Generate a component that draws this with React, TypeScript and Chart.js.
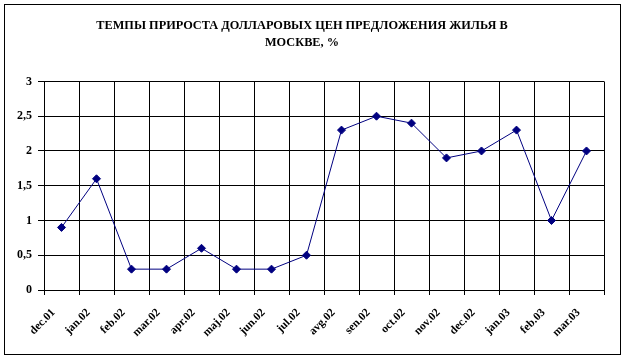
import React, { useEffect, useRef } from "react";
import { Chart, registerables } from "chart.js";

Chart.register(...registerables);

const titleLines = ["ТЕМПЫ ПРИРОСТА ДОЛЛАРОВЫХ ЦЕН ПРЕДЛОЖЕНИЯ ЖИЛЬЯ В", "МОСКВЕ, %"];
const categories = ["dec.01", "jan.02", "feb.02", "mar.02", "apr.02", "maj.02", "jun.02", "jul.02", "avg.02", "sen.02", "oct.02", "nov.02", "dec.02", "jan.03", "feb.03", "mar.03"];
const growth = [0.9, 1.6, 0.3, 0.3, 0.6, 0.3, 0.3, 0.5, 2.3, 2.5, 2.4, 1.9, 2.0, 2.3, 1.0, 2.0];
const yMin = 0;
const yMax = 3;
const yStep = 0.5;

const FONT = "'Liberation Serif', 'Times New Roman', serif";

export default function App() {
  const ref = useRef<HTMLCanvasElement | null>(null);
  useEffect(() => {
    if (!ref.current) return;
    const chart = new Chart(ref.current, {
      type: "line",
      data: {
        labels: categories,
        datasets: [
          {
            data: growth,
            borderColor: "#000080",
            backgroundColor: "#000080",
            borderWidth: 1,
            pointStyle: "rectRot",
            pointRadius: 4,
            pointBorderWidth: 1,
            tension: 0,
          },
        ],
      },
      options: {
        responsive: false,
        animation: false,
        layout: { padding: { left: 0, right: 22, top: 0, bottom: 0 } },
        plugins: {
          legend: { display: false },
          tooltip: { enabled: false },
          title: {
            display: true,
            text: titleLines,
            color: "#000",
            font: { family: FONT, size: 12.3, weight: "bold", lineHeight: 1.4 },
            padding: { top: 17, bottom: 30 },
          },
        },
        scales: {
          x: {
            offset: true,
            grid: { offset: true, color: "#000", lineWidth: 1, tickLength: 5, drawTicks: true },
            border: { color: "#000", width: 1 },
            ticks: {
              color: "#000",
              font: { family: FONT, size: 11.5, weight: "bold" },
              minRotation: 45,
              maxRotation: 45,
              autoSkip: false,
              padding: 11,
              labelOffset: -8,
            },
            afterFit: (s: any) => {
              s.height = 70;
            },
          },
          y: {
            min: yMin,
            max: yMax,
            grid: { color: "#000", lineWidth: 1, tickLength: 6 },
            border: { color: "#000", width: 1 },
            ticks: {
              stepSize: yStep,
              color: "#000",
              font: { family: FONT, size: 12, weight: "bold" },
              padding: 6,
              callback: (v: any) => String(v).replace(".", ","),
            },
            afterFit: (s: any) => {
              s.width = 44;
            },
          },
        },
      },
    });
    return () => chart.destroy();
  }, []);
  return (
    <div style={{ position: "fixed", left: 0, top: 0, width: 626, height: 360, background: "#fff" }}>
      <canvas ref={ref} width={626} height={360} style={{ position: "absolute", left: 0, top: 0 }} />
      <div
        style={{
          position: "absolute",
          left: 4,
          top: 4,
          width: 615,
          height: 349,
          border: "1px solid #000",
          pointerEvents: "none",
        }}
      />
    </div>
  );
}
